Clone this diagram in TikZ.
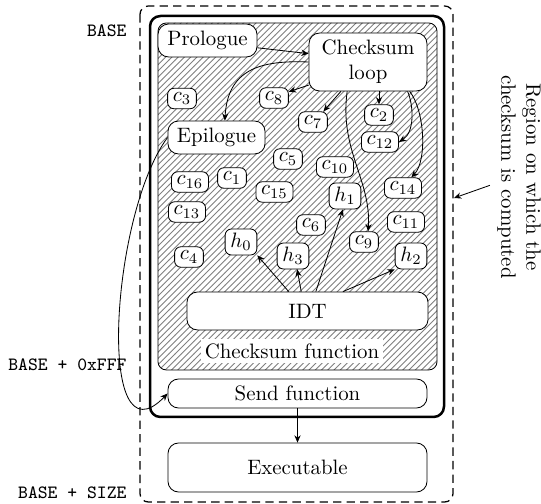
\documentclass[tikz,border=0pt]{standalone}
\usetikzlibrary{patterns, arrows.meta}

\begin{document}
\begin{tikzpicture}[
  x=0.48pt, y=-0.48pt,
  block/.style = {draw, rounded corners=5pt, fill=white, align=center, inner sep=2pt},
  chunk/.style = {draw, rounded corners=3pt, fill=white, inner xsep=2.5pt, inner ysep=2pt},
  arr/.style   = {-{Stealth[length=3.5pt, width=3pt]}},
  addr/.style  = {anchor=east, font=\small\ttfamily, inner sep=1pt},
]
\useasboundingbox (0,0) rectangle (541,504);

% ---- memory regions ---------------------------------------------------------
\draw[dash pattern=on 4pt off 2.5pt, semithick, rounded corners=4pt] (140,6) rectangle (453,502);
\draw[very thick, rounded corners=5pt] (150,16) rectangle (444,417);
\draw[pattern=north east lines, pattern color=gray, rounded corners=4pt] (158,23) rectangle (437,370);

% ---- addresses --------------------------------------------------------------
\node[addr] (base) at (129,31)  {BASE};
\node[addr] (bfff) at (129,365) {BASE + 0xFFF};
\node[addr] (bsz)  at (129,493) {BASE + SIZE};

% ---- checksum function ------------------------------------------------------
\node[block, minimum width=47.5pt, minimum height=15.8pt] (pro)  at (207.5,40.5)  {Prologue};
\node[block, minimum width=56.6pt, minimum height=27.8pt] (loop) at (368,62)      {Checksum\\loop};
\node[block, minimum width=46.6pt, minimum height=15.8pt] (epi)  at (216.5,137.5) {Epilogue};
\node[block, minimum width=115.7pt, minimum height=18.2pt] (idt) at (307.5,311)   {IDT};
\node[fill=white, inner sep=2pt] (cfun) at (292,351) {Checksum function};

% ---- code chunks ------------------------------------------------------------
\node[chunk] (c1)  at (232,178)   {$c_1$};
\node[chunk] (c2)  at (379,115)   {$c_2$};
\node[chunk] (c3)  at (182,98.5)  {$c_3$};
\node[chunk] (c4)  at (189,257)   {$c_4$};
\node[chunk] (c5)  at (288,159)   {$c_5$};
\node[chunk] (c6)  at (311,225)   {$c_6$};
\node[chunk] (c7)  at (313,122)   {$c_7$};
\node[chunk] (c8)  at (274,98)    {$c_8$};
\node[chunk] (c9)  at (364,242)   {$c_9$};
\node[chunk] (c10) at (335,167)   {$c_{10}$};
\node[chunk] (c11) at (406,222)   {$c_{11}$};
\node[chunk] (c12) at (380,142)   {$c_{12}$};
\node[chunk] (c13) at (187,212)   {$c_{13}$};
\node[chunk] (c14) at (403,188)   {$c_{14}$};
\node[chunk] (c15) at (274.5,192) {$c_{15}$};
\node[chunk] (c16) at (190,182)   {$c_{16}$};

% ---- handlers ---------------------------------------------------------------
\node[chunk] (h0) at (241,242) {$h_0$};
\node[chunk] (h1) at (345,196) {$h_1$};
\node[chunk] (h2) at (411,256) {$h_2$};
\node[chunk] (h3) at (293,256) {$h_3$};

% ---- send + executable ------------------------------------------------------
\node[block, minimum width=124.3pt, minimum height=13.9pt] (send) at (297.5,393.5) {Send function};
\node[block, minimum width=124.3pt, minimum height=23.5pt] (exe)  at (297.5,467.5) {Executable};

% ---- control flow -----------------------------------------------------------
\draw[arr] ([yshift=-3.5pt]pro.east) -- ([yshift=4pt]loop.west);
\draw[arr] (loop.west) .. controls +(-49,-2) and +(3,-51) .. ([xshift=4pt]epi.north);
\draw[arr] ([yshift=3pt]loop.south west) -- ([yshift=3pt]c8.east);
\draw[arr] ([xshift=-13pt]loop.south) -- ([xshift=5pt]c7.north);
\draw[arr] (loop.south -| c2) -- (c2.north);
\draw[arr] ([xshift=19pt]loop.south) .. controls +(6,14) and +(16,-10) .. (c12.east);
\draw[arr] ([xshift=20pt]loop.south) .. controls +(15,19) and +(16,-17) .. ([xshift=4pt]c14.north);
\draw[arr] ([xshift=-10pt]loop.south) .. controls +(-8,59) and +(3,-52) .. ([xshift=2pt]c9.north);

\draw[arr] ([xshift=-9pt]idt.north) -- (h0.south east);
\draw[arr] ([xshift=-3pt]idt.north) -- ([xshift=2pt]h3.south);
\draw[arr] ([xshift=4pt]idt.north)  -- ([xshift=-1pt]h1.south);
\draw[arr] ([xshift=17pt]idt.north) -- (h2.south west);

\draw[arr] (epi.west) .. controls +(-57,77) and +(-72,75) .. (send.west);
\draw[arr] (send.south) -- (exe.north);

% ---- checksummed region -----------------------------------------------------
\node[rotate=-90, align=center] (region) at (519,177)
  {Region on which the\\checksum is computed};
\coordinate (hit) at (454,198);
\draw[arr] ([yshift=-4pt]region.south) -- (hit);

\end{tikzpicture}
\end{document}
